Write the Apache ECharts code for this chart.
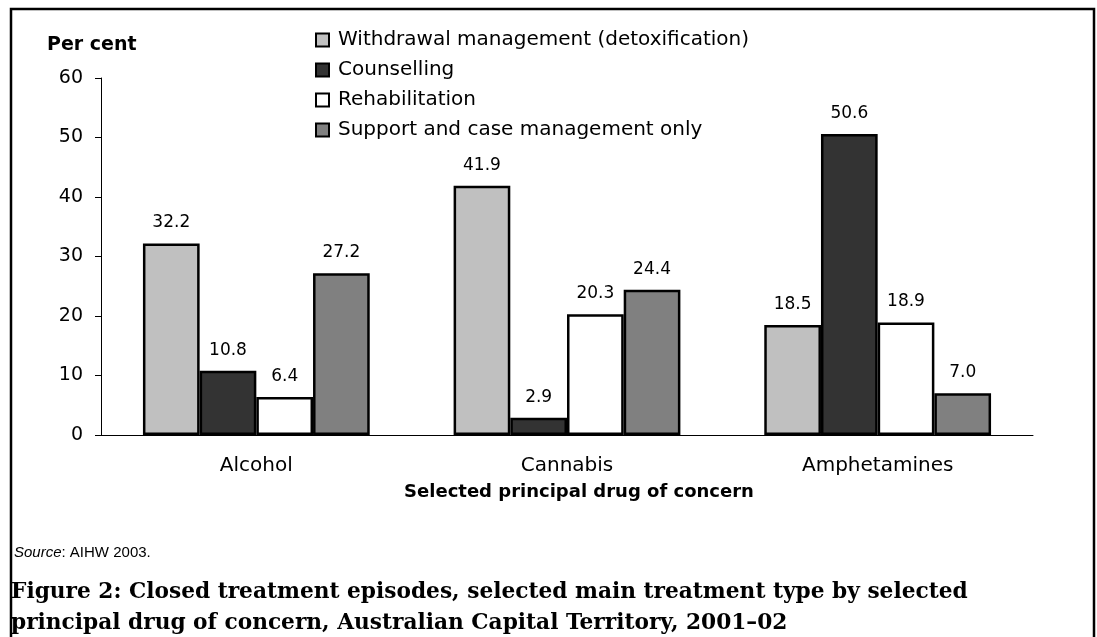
<!DOCTYPE html>
<html>
<head>
<meta charset="utf-8">
<script src="https://cdn.jsdelivr.net/npm/echarts@6/dist/echarts.min.js"></script>
<style>
html,body{margin:0;padding:0;background:#fff;}
#chart{width:1097px;height:637px;}
</style>
</head>
<body>
<div id="chart"></div>
<script>
const categories = ['Alcohol', 'Cannabis', 'Amphetamines'];
const seriesNames = ['Withdrawal management (detoxification)', 'Counselling', 'Rehabilitation', 'Support and case management only'];
const withdrawal = [32.2, 41.9, 18.5];
const counselling = [10.8, 2.9, 50.6];
const rehabilitation = [6.4, 20.3, 18.9];
const support = [27.2, 24.4, 7.0];
const yTicks = [0, 10, 20, 30, 40, 50, 60];
const colors = ['#C0C0C0', '#333333', '#FFFFFF', '#808080'];

const allData = [withdrawal, counselling, rehabilitation, support];
const FONT = '"DejaVu Sans", sans-serif';

const chart = echarts.init(document.getElementById('chart'));
chart.setOption({
  animation: false,
  backgroundColor: '#fff',
  textStyle: {fontFamily: FONT, color: '#000'},
  grid: {left: 101, right: 64, top: 78, bottom: 202, containLabel: false},
  legend: {
    orient: 'vertical',
    left: 310, top: 25,
    icon: 'rect',
    itemWidth: 13, itemHeight: 13,
    itemGap: 10,
    textStyle: {fontFamily: FONT, fontSize: 20, color: '#000', padding: [0,0,0,4]},
    data: seriesNames
  },
  xAxis: {
    type: 'category',
    data: categories,
    axisLine: {lineStyle: {color: '#000', width: 1}},
    axisTick: {length: 6, lineStyle: {color: '#000'}},
    axisLabel: {fontSize: 20, color: '#000', margin: 21, fontFamily: FONT},
    name: 'Selected principal drug of concern',
    nameLocation: 'middle',
    nameGap: 48,
    nameTextStyle: {fontSize: 18, fontWeight: 'bold', color: '#000', fontFamily: FONT, padding: [0,0,0,24]}
  },
  yAxis: {
    type: 'value',
    min: yTicks[0], max: yTicks[yTicks.length-1], interval: 10,
    splitLine: {show: false},
    axisLine: {show: true, lineStyle: {color: '#000', width: 1}},
    axisTick: {show: true, length: 6, lineStyle: {color: '#000'}},
    axisLabel: {fontSize: 19, color: '#000', margin: 18, fontFamily: FONT}
  },
  series: seriesNames.map((name, i) => ({
    name: name,
    type: 'bar',
    data: allData[i],
    barGap: '0%',
    barCategoryGap: '27%',
    itemStyle: {color: colors[i], borderColor: '#000', borderWidth: 2.5},
    label: {
      show: true, position: 'top', distance: 12,
      fontSize: 17, color: '#000', fontFamily: FONT,
      formatter: p => p.value.toFixed(1)
    }
  })),
  graphic: [
    {type: 'rect', shape: {x: 11, y: 9, width: 1083, height: 700}, style: {fill: 'none', stroke: '#000', lineWidth: 2.5}, silent: true},
    {type: 'text', left: 47, top: 36, style: {text: 'Per cent', font: 'bold 19px "DejaVu Sans", sans-serif', fill: '#000'}},
    {type: 'text', left: 14, top: 545, style: {
      text: '{i|Source}: AIHW 2003.',
      rich: {i: {fontStyle: 'italic', fontSize: 15, fontFamily: 'Liberation Sans, Arial, sans-serif'}},
      fontSize: 15, fontFamily: 'Liberation Sans, Arial, sans-serif', fill: '#000'}},
    {type: 'text', left: 11, top: 577, style: {
      text: 'Figure 2: Closed treatment episodes, selected main treatment type by selected\nprincipal drug of concern, Australian Capital Territory, 2001–02',
      font: 'bold 21.7px "DejaVu Serif", serif', lineHeight: 31, fill: '#000'}}
  ]
});
</script>
</body>
</html>
